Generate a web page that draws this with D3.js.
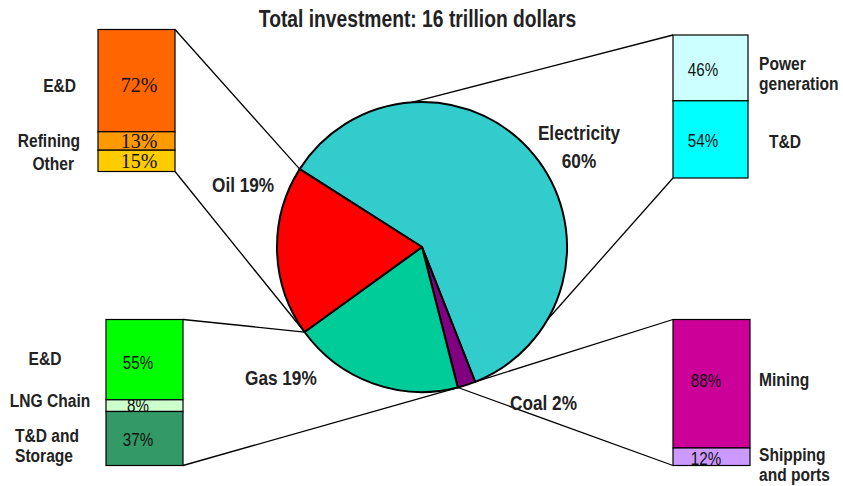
<!DOCTYPE html>
<html>
<head>
<meta charset="utf-8">
<script src="https://cdn.jsdelivr.net/npm/d3@7"></script>
<style>
html,body{margin:0;padding:0;background:#fff;}
svg{display:block;}
.lbl{font-family:"Liberation Sans",Arial,sans-serif;font-weight:bold;fill:#222;}
.pct{font-family:"Liberation Sans",Arial,sans-serif;fill:#111;}
.pctSerif{font-family:"Liberation Serif","Times New Roman",serif;fill:#111;}
</style>
</head>
<body>
<svg id="chart" width="843" height="486"></svg>
<script>
// ---------- DATA ----------
const title = "Total investment: 16 trillion dollars";
const pieCategories = ["Electricity", "Coal", "Gas", "Oil"];
const pieValues = [60, 2, 19, 19];
const pieColors = ["#33CCCC", "#800080", "#00CC99", "#FF0000"];

const oilSegments = ["E&D", "Refining", "Other"];
const oilShares = [72, 13, 15];
const oilColors = ["#FF6600", "#FF9900", "#FFCC00"];

const elecSegments = ["Power generation", "T&D"];
const elecShares = [46, 54];
const elecColors = ["#CCFFFF", "#00FFFF"];

const gasSegments = ["E&D", "LNG Chain", "T&D and Storage"];
const gasShares = [55, 8, 37];
const gasColors = ["#00FF00", "#CCFFCC", "#339966"];

const coalSegments = ["Mining", "Shipping and ports"];
const coalShares = [88, 12];
const coalColors = ["#CC0099", "#CC99FF"];

// ---------- LAYOUT ----------
const svg = d3.select("#chart");
const cx = 422, cy = 247, R = 145;
const deg = Math.PI / 180;
const startA = -57.5 * deg;
const NARROW = 0.82; // emulate a narrow face

function addText(parent, lines, x, y, anchor, size, cls, lh, sx) {
  const g = parent.append("g").attr("transform", `translate(${x},${y}) scale(${sx},1)`);
  const t = g.append("text").attr("class", cls).style("font-size", size + "px")
    .attr("text-anchor", anchor);
  lines.forEach((s, k) => t.append("tspan").attr("x", 0).attr("y", k * lh).text(s));
  return t;
}

const pie = d3.pie().sort(null).value(d => d)
  .startAngle(startA).endAngle(startA + 2 * Math.PI);
const arcs = pie(pieValues);
const arc = d3.arc().innerRadius(0).outerRadius(R);
const onCircle = a => [cx + R * Math.sin(a), cy - R * Math.cos(a)];

const byName = n => arcs[pieCategories.indexOf(n)];
const oilElec = byName("Oil").endAngle;
const oilGas = byName("Oil").startAngle;
const gasCoal = byName("Gas").startAngle;
const coalElec = byName("Coal").startAngle;

const bars = [
  { segs: oilSegments, vals: oilShares, cols: oilColors,
    x: 98, y: 29.5, w: 77, h: 142, pctX: 139, pctClass: "pctSerif", pctSize: 20, pctSx: 1, pctDy: [11, 7, 7],
    labels: [
      { t: ["E&D"], x: 76, y: 92, a: "end" },
      { t: ["Refining"], x: 80, y: 146.5, a: "end" },
      { t: ["Other"], x: 74, y: 170, a: "end" }],
    conn: [["tr", oilElec], ["br", oilGas]] },
  { segs: elecSegments, vals: elecShares, cols: elecColors,
    x: 673, y: 35, w: 75, h: 143, pctX: 703, pctClass: "pct", pctSize: 18.5, pctSx: NARROW, pctDy: [8.5, 7.5],
    labels: [
      { t: ["Power", "generation"], x: 759, y: 70, a: "start" },
      { t: ["T&D"], x: 769, y: 147.5, a: "start" }],
    conn: [["tl", -4 * deg], ["bl", 120 * deg]] },
  { segs: gasSegments, vals: gasShares, cols: gasColors,
    x: 106, y: 319.5, w: 77, h: 146, pctX: 138, pctClass: "pct", pctSize: 18.5, pctSx: NARROW, pctDy: [9, 6, 8],
    labels: [
      { t: ["E&D"], x: 45, y: 365, a: "middle" },
      { t: ["LNG Chain"], x: 50, y: 406.5, a: "middle" },
      { t: ["T&D and", "Storage"], x: 15, y: 442, a: "start" }],
    conn: [["tr", oilGas], ["br", gasCoal]] },
  { segs: coalSegments, vals: coalShares, cols: coalColors,
    x: 673, y: 319.5, w: 77, h: 146, pctX: 706, pctClass: "pct", pctSize: 18.5, pctSx: NARROW, pctDy: [3, 8],
    labels: [
      { t: ["Mining"], x: 759, y: 386, a: "start" },
      { t: ["Shipping", "and ports"], x: 759, y: 460.5, a: "start" }],
    conn: [["tl", coalElec], ["bl", gasCoal]] }
];

// ---------- TITLE ----------
addText(svg, [title], 417.5, 26.5, "middle", 23.5, "lbl", 0, NARROW);

// ---------- CONNECTORS ----------
const conG = svg.append("g");
bars.forEach(b => {
  b.conn.forEach(([corner, ang]) => {
    const px = corner[1] === "r" ? b.x + b.w : b.x;
    const py = corner[0] === "t" ? b.y : b.y + b.h;
    const [qx, qy] = onCircle(ang);
    conG.append("line").attr("x1", px).attr("y1", py).attr("x2", qx).attr("y2", qy)
      .attr("stroke", "#000").attr("stroke-width", 1.3);
  });
});

// ---------- PIE ----------
const pg = svg.append("g").attr("transform", `translate(${cx},${cy})`);
pg.selectAll("path").data(arcs).join("path")
  .attr("d", arc)
  .attr("fill", (d, i) => pieColors[i])
  .attr("stroke", "#000").attr("stroke-width", 2).attr("stroke-linejoin", "round");

const pieLabelLayout = [
  { t: ["Electricity", pieValues[0] + "%"], x: 579, y: 139.5, a: "middle", lh: 29 },
  { t: ["Coal " + pieValues[1] + "%"], x: 510, y: 410, a: "start", lh: 0 },
  { t: ["Gas " + pieValues[2] + "%"], x: 245, y: 385, a: "start", lh: 0 },
  { t: ["Oil " + pieValues[3] + "%"], x: 212, y: 191.5, a: "start", lh: 0 }
];
pieLabelLayout.forEach(l => addText(svg, l.t, l.x, l.y, l.a, 21, "lbl", l.lh, NARROW));

// ---------- BARS ----------
bars.forEach(b => {
  const y = d3.scaleLinear().domain([0, d3.sum(b.vals)]).range([b.y, b.y + b.h]);
  const cum = d3.cumsum(b.vals);
  const g = svg.append("g");
  b.vals.forEach((v, i) => {
    const y0 = y(cum[i] - v), y1 = y(cum[i]);
    g.append("rect").attr("x", b.x).attr("y", y0).attr("width", b.w).attr("height", y1 - y0)
      .attr("fill", b.cols[i]).attr("stroke", "#000").attr("stroke-width", 1.2);
  });
  b.vals.forEach((v, i) => {
    const y0 = y(cum[i] - v), y1 = y(cum[i]);
    addText(g, [v + "%"], b.pctX, (y0 + y1) / 2 + b.pctDy[i], "middle", b.pctSize, b.pctClass, 0, b.pctSx);
  });
  b.labels.forEach(l => addText(g, l.t, l.x, l.y, l.a, 19, "lbl", 20.5, NARROW));
});
</script>
</body>
</html>
